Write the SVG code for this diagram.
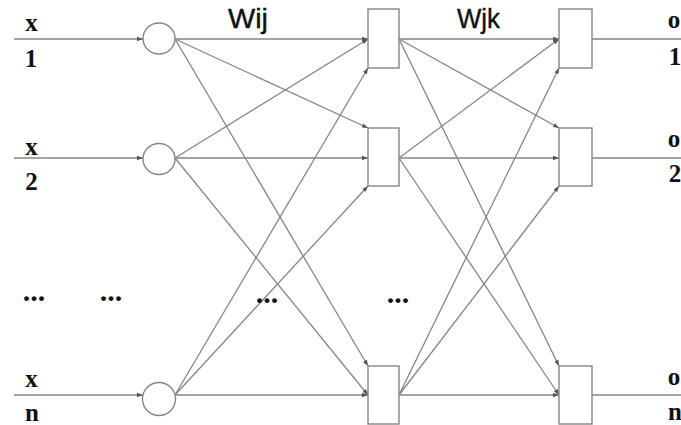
<svg xmlns="http://www.w3.org/2000/svg" width="681" height="425" viewBox="0 0 681 425">
<defs>
<marker id="ah" viewBox="0 0 8 6" refX="8" refY="3" markerWidth="6" markerHeight="5" markerUnits="userSpaceOnUse" orient="auto">
<path d="M0,0 L8,3 L0,6 z" fill="#555"/>
</marker>
<style>
.c{stroke:#858585;stroke-width:1.3;fill:none}
.a{marker-end:url(#ah)}
.n{stroke:#858585;stroke-width:1.4;fill:#fff}
.lb{font-family:"Liberation Serif",serif;font-weight:bold;font-size:25px;fill:#111;text-anchor:middle}
.d{font-family:"Liberation Serif",serif;font-weight:bold;font-size:30px;fill:#111;text-anchor:middle}
.w{font-family:"Liberation Sans",sans-serif;font-size:28px;fill:#111;stroke:#111;stroke-width:0.4}
</style>
</defs>
<rect width="681" height="425" fill="#fff"/>
<g id="connectors">
<line class="c a" x1="14" y1="39" x2="143" y2="39"/>
<line class="c a" x1="14" y1="158" x2="143" y2="158"/>
<line class="c a" x1="14" y1="395" x2="143" y2="395"/>
<line class="c a" x1="175" y1="39" x2="368" y2="39"/>
<line class="c a" x1="175" y1="39" x2="368" y2="128"/>
<line class="c a" x1="175" y1="39" x2="368" y2="366"/>
<line class="c a" x1="175" y1="158" x2="368" y2="39"/>
<line class="c a" x1="175" y1="158" x2="368" y2="158"/>
<line class="c a" x1="175" y1="158" x2="368" y2="395"/>
<line class="c a" x1="175" y1="395" x2="368" y2="68"/>
<line class="c a" x1="175" y1="395" x2="368" y2="186"/>
<line class="c a" x1="175" y1="395" x2="368" y2="395"/>
<line class="c a" x1="399" y1="39" x2="559" y2="39"/>
<line class="c a" x1="399" y1="39" x2="559" y2="128"/>
<line class="c a" x1="399" y1="39" x2="559" y2="366"/>
<line class="c a" x1="399" y1="158" x2="559" y2="39"/>
<line class="c a" x1="399" y1="158" x2="559" y2="158"/>
<line class="c a" x1="399" y1="158" x2="559" y2="395"/>
<line class="c a" x1="399" y1="395" x2="559" y2="68"/>
<line class="c a" x1="399" y1="395" x2="559" y2="186"/>
<line class="c a" x1="399" y1="395" x2="559" y2="395"/>
<line class="c" x1="592" y1="39" x2="681" y2="39"/>
<line class="c" x1="592" y1="158" x2="681" y2="158"/>
<line class="c" x1="592" y1="395" x2="681" y2="395"/>
</g>
<g id="in1"><ellipse class="n" cx="159" cy="38.5" rx="16" ry="15.5"/></g>
<g id="in2"><ellipse class="n" cx="159" cy="159" rx="16" ry="15.5"/></g>
<g id="inn"><ellipse class="n" cx="159" cy="399" rx="16.5" ry="16.5"/></g>
<g id="h1"><rect class="n" x="368" y="9" width="31" height="59"/></g>
<g id="h2"><rect class="n" x="368" y="128" width="31" height="58"/></g>
<g id="hn"><rect class="n" x="368" y="366" width="31" height="58"/></g>
<g id="o1"><rect class="n" x="559" y="9" width="33" height="59"/></g>
<g id="o2"><rect class="n" x="559" y="128" width="33" height="58"/></g>
<g id="on"><rect class="n" x="559" y="366" width="33" height="58"/></g>
<g id="labels">
<text class="lb" x="31.5" y="31">x</text>
<text class="lb" x="31" y="67">1</text>
<text class="lb" x="31.5" y="155">x</text>
<text class="lb" x="31.5" y="190">2</text>
<text class="lb" x="31.5" y="387">x</text>
<text class="lb" x="32" y="421">n</text>
<text class="lb" x="674" y="28">o</text>
<text class="lb" x="675" y="65">1</text>
<text class="lb" x="674" y="147">o</text>
<text class="lb" x="675" y="182">2</text>
<text class="lb" x="674" y="385">o</text>
<text class="lb" x="675" y="420">n</text>
<text class="d" x="34" y="301">...</text>
<text class="d" x="111" y="301">...</text>
<text class="d" x="267" y="303">...</text>
<text class="d" x="398" y="303">...</text>
<text class="w" x="228" y="28" textLength="40" lengthAdjust="spacingAndGlyphs">Wij</text>
<text class="w" x="457" y="28" textLength="43" lengthAdjust="spacingAndGlyphs">Wjk</text>
</g>
</svg>
